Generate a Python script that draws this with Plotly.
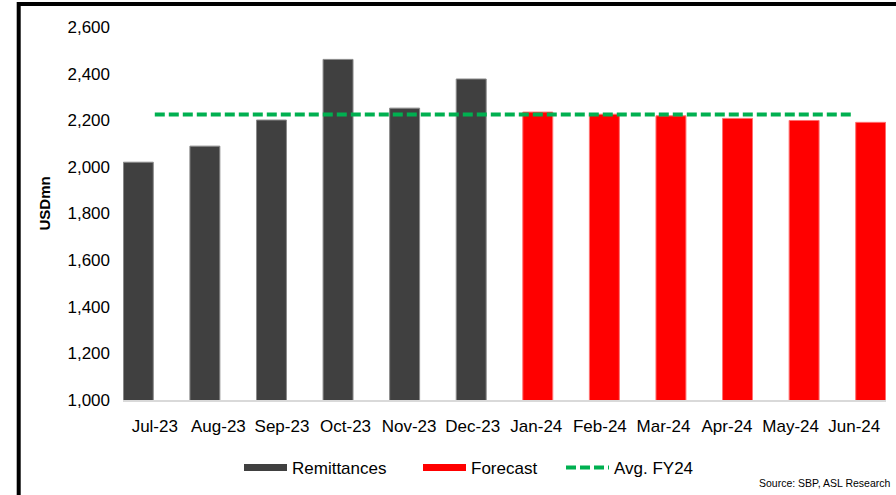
import plotly.graph_objects as go

# Monthly home remittances, USD mn (FY24)
months = ["Jul-23", "Aug-23", "Sep-23", "Oct-23", "Nov-23", "Dec-23",
          "Jan-24", "Feb-24", "Mar-24", "Apr-24", "May-24", "Jun-24"]
actual_months = months[:6]
actual_values = [2020, 2089, 2201, 2461, 2252, 2377]
forecast_months = months[6:]
forecast_values = [2235, 2226, 2219, 2208, 2199, 2191]
avg_fy24 = 2225
y_ticks = [1000, 1200, 1400, 1600, 1800, 2000, 2200, 2400, 2600]

DARK = "#404040"
RED = "#FF0000"
GREEN = "#00B050"
FONT = "Liberation Sans, Arial, sans-serif"

fig = go.Figure()

# Bars live on a slightly wider-spaced category axis without labels
fig.add_trace(go.Bar(
    x=actual_months, y=actual_values, width=0.45, showlegend=False,
    marker=dict(color=DARK, line=dict(color="#8a8a8a", width=1)),
))
fig.add_trace(go.Bar(
    x=forecast_months, y=forecast_values, width=0.45, showlegend=False,
    marker=dict(color=RED, line=dict(color="#ff7070", width=1)),
))

# Average line on the labelled overlay axis, drawn above the bars
fig.add_trace(go.Scatter(
    x=months, y=[avg_fy24] * len(months), mode="lines", xaxis="x2",
    line=dict(color=GREEN, width=4, dash="10px,4px"),
    name="Avg. FY24", legend="legend3",
))

# Legend entries drawn as thick swatches
fig.add_trace(go.Scatter(x=[None], y=[None], mode="lines", name="Remittances",
                         line=dict(color=DARK, width=7), legend="legend"))
fig.add_trace(go.Scatter(x=[None], y=[None], mode="lines", name="Forecast",
                         line=dict(color=RED, width=7), legend="legend2"))

PLOT_L, PLOT_R, PLOT_T, PLOT_B = 123, 886, 27, 400
W, H = 896, 495
pw = PLOT_R - PLOT_L
ph = PLOT_B - PLOT_T


def px_x(v):
    return (v - PLOT_L) / pw


def px_y(v):
    return (PLOT_B - v) / ph


legend_common = dict(
    orientation="h", xanchor="left", yanchor="middle", y=px_y(468),
    font=dict(family=FONT, size=17, color="#000000"),
    bgcolor="rgba(0,0,0,0)", itemwidth=43, itemclick=False,
)

fig.update_layout(
    width=W, height=H,
    margin=dict(l=PLOT_L, r=W - PLOT_R, t=PLOT_T, b=H - PLOT_B,
                autoexpand=False),
    paper_bgcolor="white", plot_bgcolor="white",
    barmode="overlay",
    font=dict(family=FONT, size=17, color="#000000"),
    xaxis=dict(
        type="category", categoryorder="array", categoryarray=months,
        range=[-0.23, 11.23], showgrid=False, showline=False,
        showticklabels=False, ticks="", zeroline=False, automargin=False,
    ),
    xaxis2=dict(
        type="category", categoryorder="array", categoryarray=months,
        range=[-0.5, 11.5], overlaying="x", side="bottom", anchor="y",
        showgrid=False, showline=True, linecolor="#d9d9d9", linewidth=2,
        ticks="", ticklabelstandoff=10, automargin=False,
        tickfont=dict(family=FONT, size=17, color="#000000"),
    ),
    yaxis=dict(
        range=[1000, 2600], tickvals=y_ticks, tickformat=",",
        showgrid=False, zeroline=False, showline=False, ticks="",
        ticklabelstandoff=12, automargin=False,
        tickfont=dict(family=FONT, size=17, color="#000000"),
    ),
    legend=dict(legend_common, x=px_x(239)),
    legend2=dict(legend_common, x=px_x(418)),
    legend3=dict(legend_common, x=px_x(561)),
    shapes=[dict(
        type="rect", xref="paper", yref="paper",
        x0=px_x(18.7), x1=px_x(W + 40), y0=px_y(H + 40), y1=px_y(4),
        line=dict(color="#000000", width=4), fillcolor="rgba(0,0,0,0)",
        layer="above",
    )],
    annotations=[
        dict(text="<b>USDmn</b>", xref="paper", yref="paper",
             x=px_x(44), y=px_y(203.5), textangle=-90, showarrow=False,
             xanchor="center", yanchor="middle",
             font=dict(family=FONT, size=15, color="#000000")),
        dict(text="Source: SBP, ASL Research", xref="paper", yref="paper",
             x=px_x(892), y=px_y(483), showarrow=False,
             xanchor="right", yanchor="middle",
             font=dict(family=FONT, size=10.5, color="#000000")),
    ],
)

fig.write_html("out.html")
